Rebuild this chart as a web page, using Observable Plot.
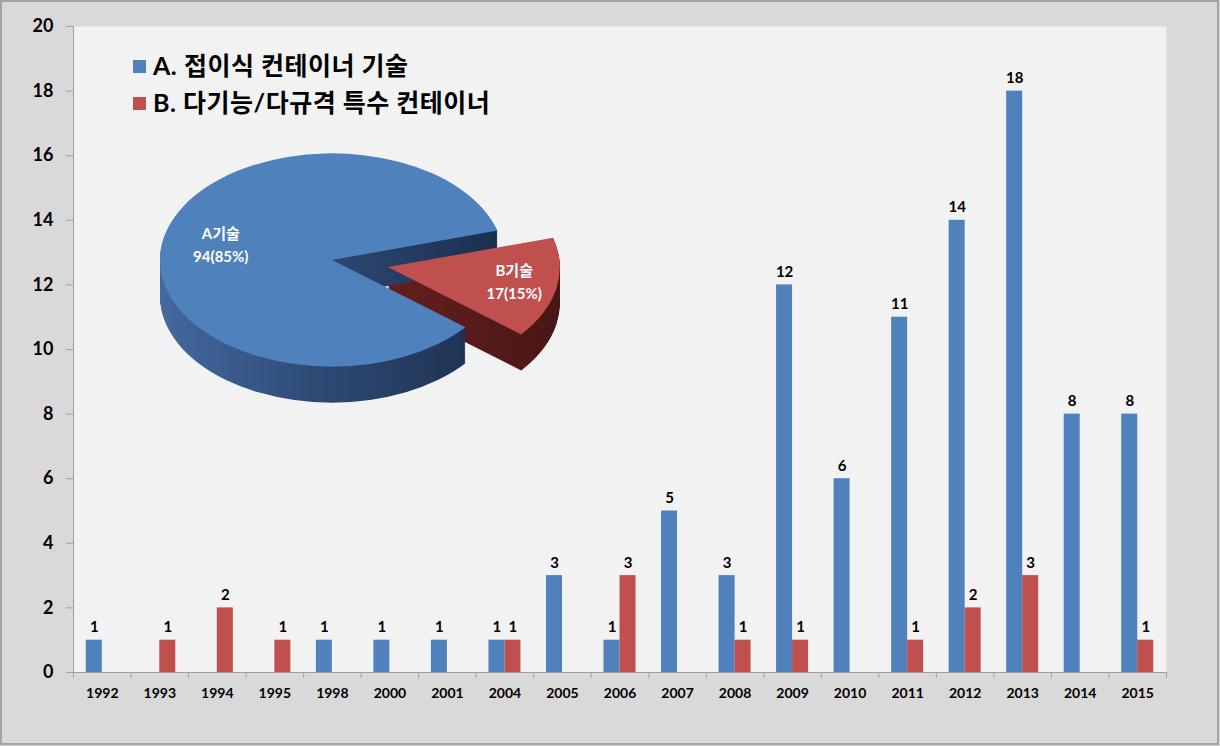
<!DOCTYPE html>
<html>
<head>
<meta charset="utf-8">
<script src="https://cdn.jsdelivr.net/npm/d3@7"></script>
<script src="https://cdn.jsdelivr.net/npm/@observablehq/plot@0.6"></script>
<style>
html,body{margin:0;padding:0;background:#d9d9d9;}
#wrap{position:relative;width:1220px;height:746px;overflow:hidden;background:#d9d9d9;}
#wrap svg{position:absolute;left:0;top:0;}
#border{position:absolute;left:0;top:0;width:1219px;height:745px;box-sizing:border-box;border:2px solid #a3a3a3;pointer-events:none;}
.legend{position:absolute;left:133px;font-family:Lato,"Noto Sans CJK KR",sans-serif;font-weight:bold;font-size:25px;letter-spacing:0.5px;color:#000;white-space:nowrap;}
.legend .row{position:absolute;left:0;height:30px;line-height:30px;}
.legend .sw{position:absolute;left:0;width:13px;height:13px;}
.legend .tx{position:absolute;left:20px;top:0;}
</style>
</head>
<body>
<div id="wrap"><div id="border"></div></div>
<script>
// ---- data ----
const years = ["1992","1993","1994","1995","1998","2000","2001","2004","2005","2006","2007","2008","2009","2010","2011","2012","2013","2014","2015"];
const seriesA = [1,0,0,0,1,1,1,1,3,1,5,3,12,6,11,14,18,8,8];
const seriesB = [0,1,2,1,0,0,0,1,0,3,0,1,1,0,1,2,3,0,1];
const seriesNames = ["A. 접이식 컨테이너 기술", "B. 다기능/다규격 특수 컨테이너"];
const yTicks = [0,2,4,6,8,10,12,14,16,18,20];
const pieNames = ["A기술", "B기술"];
const pieValues = [94, 17];
const piePercents = ["85%", "15%"];

const colors = ["#4F81BD", "#C0504D"];

// ---- layout ----
const W = 1220, H = 746;
const mL = 73, mR = 54, mT = 26, mB = 74;
const bw = (W - mL - mR) / years.length;
const barW = 16;
const insA = {insetLeft: bw/2 - barW, insetRight: bw/2};
const insB = {insetLeft: bw/2, insetRight: bw/2 - barW};

const rowsA = years.map((y, i) => ({year: y, value: seriesA[i]})).filter(d => d.value > 0);
const rowsB = years.map((y, i) => ({year: y, value: seriesB[i]})).filter(d => d.value > 0);

// ---- pie (3D-looking) as a render-function mark ----
function pieMark() {
  const cx = 332, cy = 260, R = 172, squash = 0.62, depth = 36, explode = 57;
  const deg = Math.PI / 180;
  const total = d3.sum(pieValues);
  const startA = 74 * deg + (pieValues[1] / total) * 2 * Math.PI;
  const arcs = d3.pie().sort(null).startAngle(startA).endAngle(startA + 2 * Math.PI)(pieValues);
  const arc = d3.arc().innerRadius(0).outerRadius(R);
  const offs = arcs.map((a, i) => {
    if (i === 0) return [0, 0];
    const m = (a.startAngle + a.endAngle) / 2;
    return [Math.sin(m) * explode, -Math.cos(m) * explode];
  });
  const g = d3.create("svg:g");
  const defs = g.append("defs");
  const sideStops = [
    [["0", "#4469a0"], ["0.45", "#2e4b76"], ["1", "#1c2f4e"]],
    [["0", "#641f1e"], ["1", "#481716"]]
  ];
  sideStops.forEach((stops, i) => {
    const lg = defs.append("linearGradient").attr("id", "pieside" + i).attr("x1", 0).attr("x2", 1).attr("y1", 0).attr("y2", 0);
    stops.forEach(([o, c]) => lg.append("stop").attr("offset", o).attr("stop-color", c));
  });
  const place = (i, k) => `translate(${cx + offs[i][0]},${cy + k + offs[i][1] * squash}) scale(1,${squash})`;
  for (const i of [1, 0]) {
    const sg = g.append("g");
    for (let k = depth; k >= 1; k--) {
      sg.append("path").attr("transform", place(i, k)).attr("d", arc(arcs[i])).attr("fill", `url(#pieside${i})`);
    }
  }
  for (const i of [0, 1]) {
    g.append("path").attr("transform", place(i, 0)).attr("d", arc(arcs[i])).attr("fill", colors[i]);
  }
  const labR = [0.66 * R, 0.75 * R];
  arcs.forEach((a, i) => {
    const m = (a.startAngle + a.endAngle) / 2;
    const x = cx + offs[i][0] + Math.sin(m) * labR[i];
    const y = cy + (offs[i][1] - Math.cos(m) * labR[i]) * squash;
    const t = g.append("text").attr("text-anchor", "middle").attr("fill", "#fff")
      .attr("font-family", 'Lato,"Noto Sans CJK KR",sans-serif').attr("font-weight", "bold").attr("font-size", 15);
    t.append("tspan").attr("x", x).attr("y", y - 7).text(pieNames[i]);
    t.append("tspan").attr("x", x).attr("y", y + 16).text(`${pieValues[i]}(${piePercents[i]})`);
  });
  return g.node();
}

const chart = Plot.plot({
  width: W, height: H,
  marginLeft: mL, marginRight: mR, marginTop: mT, marginBottom: mB,
  style: {background: "transparent", fontFamily: 'Lato,"Noto Sans CJK KR",sans-serif', color: "#000", overflow: "visible"},
  x: {type: "band", domain: years, padding: 0, round: false, label: null},
  y: {domain: [0, 20], label: null},
  marks: [
    Plot.frame({fill: "#f2f2f2", stroke: null}),
    Plot.barY(rowsA, {x: "year", y: "value", fill: colors[0], ...insA}),
    Plot.barY(rowsB, {x: "year", y: "value", fill: colors[1], ...insB}),
    Plot.text(rowsA, {x: "year", y: "value", text: d => String(d.value), dx: -barW/2, dy: -8, lineAnchor: "bottom", fontSize: 15, fontWeight: "bold", fill: "#000"}),
    Plot.text(rowsB, {x: "year", y: "value", text: d => String(d.value), dx: barW/2, dy: -8, lineAnchor: "bottom", fontSize: 15, fontWeight: "bold", fill: "#000"}),
    Plot.ruleY([0], {stroke: "#a0a0a0"}),
    Plot.frame({anchor: "left", stroke: "#a0a0a0"}),
    Plot.ruleX(years, {x: d => d, dx: -bw/2, y1: 0, y2: -0.18, stroke: "#a0a0a0"}),
    Plot.ruleX(years.slice(-1), {x: d => d, dx: bw/2, y1: 0, y2: -0.18, stroke: "#a0a0a0"}),
    Plot.axisY({ticks: yTicks, tickSize: 7, text: null, stroke: "#a0a0a0", label: null}),
    Plot.axisY({ticks: yTicks, tickSize: 0, tickPadding: 20, tickFormat: d => String(d), fontSize: 18, fontWeight: "bold", fill: "#000", label: null}),
    Plot.axisX({tickSize: 0, tickPadding: 16, fontSize: 14, fontWeight: "bold", fill: "#000", label: null}),
    pieMark
  ]
});

const wrap = document.getElementById("wrap");
wrap.insertBefore(chart, document.getElementById("border"));

const legend = document.createElement("div");
legend.className = "legend";
legend.style.top = "0px";
const rowCenters = [66.5, 103.5];
seriesNames.forEach((name, i) => {
  const row = document.createElement("div");
  row.className = "row";
  row.style.top = (rowCenters[i] - 17) + "px";
  const sw = document.createElement("div");
  sw.className = "sw";
  sw.style.background = colors[i];
  sw.style.top = "10px";
  const tx = document.createElement("div");
  tx.className = "tx";
  tx.textContent = name;
  row.appendChild(sw); row.appendChild(tx);
  legend.appendChild(row);
});
wrap.appendChild(legend);
</script>
</body>
</html>
